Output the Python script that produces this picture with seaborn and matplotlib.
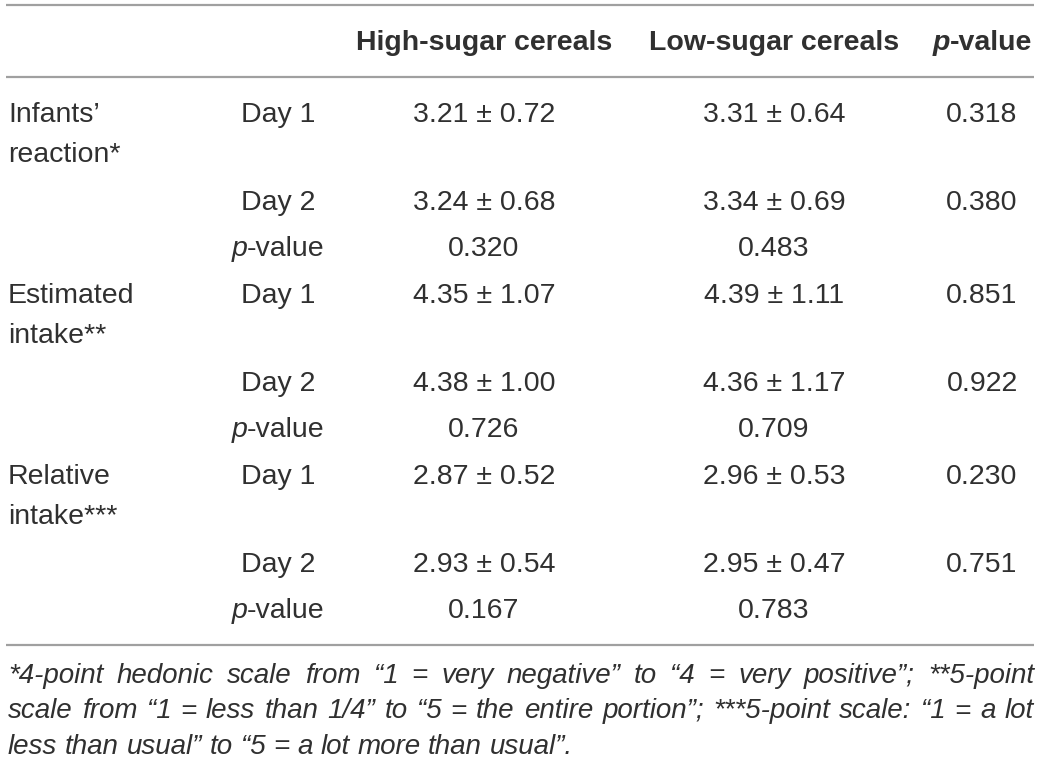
import matplotlib
matplotlib.use("Agg")
import matplotlib.pyplot as plt
import seaborn as sns

# table contents
columns = ["High-sugar cereals", "Low-sugar cereals"]
groups = [["Infants’", "reaction*"], ["Estimated", "intake**"], ["Relative", "intake***"]]
days = ["Day 1", "Day 2"]
high_mean = [3.21, 3.24, 4.35, 4.38, 2.87, 2.93]
high_sd = [0.72, 0.68, 1.07, 1.00, 0.52, 0.54]
low_mean = [3.31, 3.34, 4.39, 4.36, 2.96, 2.95]
low_sd = [0.64, 0.69, 1.11, 1.17, 0.53, 0.47]
p_between = [0.318, 0.380, 0.851, 0.922, 0.230, 0.751]
p_high_days = [0.320, 0.726, 0.167]
p_low_days = [0.483, 0.709, 0.783]
footnote = ("*4-point hedonic scale from “1 = very negative” to “4 = very positive”; **5-point "
            "scale from “1 = less than 1/4” to “5 = the entire portion”; ***5-point scale: “1 = a lot "
            "less than usual” to “5 = a lot more than usual”.")

sns.set_theme(style="white")
plt.rcParams["font.family"] = ["Liberation Sans", "DejaVu Sans"]

TXT = "#303030"
LINE = "#a0a0a0"
FS = 20.5
FS_NOTE = 20

fig = plt.figure(figsize=(10.4, 7.63), dpi=100)
ax = fig.add_axes([0, 0, 1, 1])
ax.set_xlim(0, 1040)
ax.set_ylim(763, 0)
ax.axis("off")
renderer = fig.canvas.get_renderer()


def width_of(t):
    return t.get_window_extent(renderer).width


def rich(x, y, parts, ha="center", size=FS):
    # draws pieces with different styles side by side on one baseline
    texts = [ax.text(0, y, s, va="baseline", ha="left", color=TXT, fontsize=size, **kw)
             for s, kw in parts]
    ws = [width_of(t) for t in texts]
    x0 = x - sum(ws) / 2 if ha == "center" else x
    for t, w in zip(texts, ws):
        t.set_x(x0)
        x0 += w


def justify(lines, x_left, x_right, y0, step, size):
    sp = ax.text(0, 0, "a a", fontsize=size, style="italic")
    nsp = ax.text(0, 0, "aa", fontsize=size, style="italic")
    space = width_of(sp) - width_of(nsp)
    sp.remove()
    nsp.remove()
    for i, words in enumerate(lines):
        y = y0 + i * step
        texts = [ax.text(0, y, w, va="baseline", ha="left", color=TXT, fontsize=size,
                         style="italic") for w in words]
        ws = [width_of(t) for t in texts]
        if i < len(lines) - 1 and len(words) > 1:
            gap = (x_right - x_left - sum(ws)) / (len(words) - 1)
        else:
            gap = space
        x = x_left
        for t, w in zip(texts, ws):
            t.set_x(x)
            x += w + gap


col_day, col_high, col_low, col_p = 278, 484, 774, 982
x_left, x_right = 7, 1034

# rules
for yl in [5, 77, 645]:
    ax.plot([x_left - 1, x_right], [yl, yl], color=LINE, lw=1.6, solid_capstyle="butt")

# header
head_y = 50
rich(col_high, head_y, [(columns[0], {"fontweight": "bold"})])
rich(col_low, head_y, [(columns[1], {"fontweight": "bold"})])
rich(col_p, head_y, [("p", {"fontweight": "bold", "style": "italic"}),
                     ("-value", {"fontweight": "bold"})])

# body
block_start, block_step = 122, 181
day_off = [0, 88]
p_off = 134
for g, lab in enumerate(groups):
    base = block_start + g * block_step
    for k, line in enumerate(lab):
        ax.text(x_left + 1, base + k * 40, line, va="baseline", ha="left", color=TXT, fontsize=FS)
    for d, day in enumerate(days):
        i = g * 2 + d
        y = base + day_off[d]
        rich(col_day, y, [(day, {})])
        rich(col_high, y, [(f"{high_mean[i]:.2f} ± {high_sd[i]:.2f}", {})])
        rich(col_low, y, [(f"{low_mean[i]:.2f} ± {low_sd[i]:.2f}", {})])
        rich(col_p, y, [(f"{p_between[i]:.3f}", {})])
    y = base + p_off
    rich(col_day, y, [("p", {"style": "italic"}), ("-value", {})])
    rich(col_high, y, [(f"{p_high_days[g]:.3f}", {})])
    rich(col_low, y, [(f"{p_low_days[g]:.3f}", {})])

# footnote, split into the three lines of the original and justified
words = footnote.split(" ")
note_lines = [words[:14], words[14:33], words[33:]]
justify(note_lines, x_left + 1, x_right, 683, 35.5, FS_NOTE)

fig.savefig("out.png", dpi=100, facecolor="white")
